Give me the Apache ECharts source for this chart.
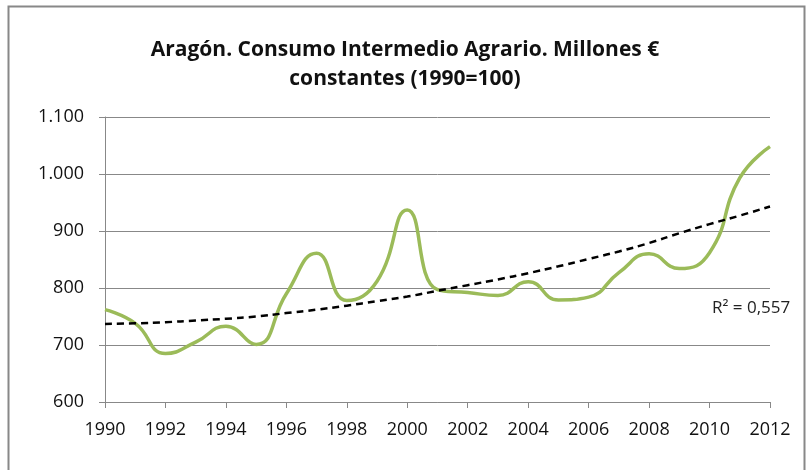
<!DOCTYPE html>
<html>
<head>
<meta charset="utf-8">
<script src="https://cdn.jsdelivr.net/npm/echarts@6/dist/echarts.min.js"></script>
<style>
html, body { margin: 0; padding: 0; background: #fff; }
#chart { width: 810px; height: 470px; }
</style>
</head>
<body>
<div id="chart"></div>
<script>
var years = [1990, 1991, 1992, 1993, 1994, 1995, 1996, 1997, 1998, 1999, 2000, 2001,
  2002, 2003, 2004, 2005, 2006, 2007, 2008, 2009, 2010, 2011, 2012]
var consumo = [762, 738, 685, 705, 733, 701, 790, 861, 778, 812, 937, 797,
  792, 787, 811, 779, 784, 827, 860, 834, 862, 993, 1048]
var tendencia = [737, 738, 740, 743, 746, 750, 756, 762, 769, 777, 785, 795,
  805, 815, 826, 838, 851, 864, 879, 896, 912, 927, 943]
var r2Label = 'R² = 0,557'

function pairs (vals) {
  return years.map(function (y, i) { return [y, vals[i]] })
}

var myChart = echarts.init(document.getElementById('chart'))
var font = '"Open Sans", "DejaVu Sans", sans-serif'

var option = {
  animation: false,
  title: {
    text: 'Aragón. Consumo Intermedio Agrario. Millones €\nconstantes (1990=100)',
    left: 'center',
    top: 31,
    textStyle: {
      fontFamily: font,
      fontSize: 21,
      fontWeight: 'bold',
      color: '#111',
      lineHeight: 29
    }
  },
  grid: { left: 105, right: 40, top: 117, bottom: 68 },
  xAxis: {
    type: 'value',
    min: 1990,
    max: 2012,
    interval: 2,
    axisLine: { lineStyle: { color: '#888', width: 1 } },
    axisTick: { show: true, length: 6, lineStyle: { color: '#888' } },
    splitLine: { show: false },
    axisLabel: {
      color: '#111',
      fontFamily: font,
      fontSize: 18,
      margin: 19,
      formatter: function (v) { return String(v) }
    }
  },
  yAxis: {
    type: 'value',
    min: 600,
    max: 1100,
    interval: 100,
    axisLine: { show: true, lineStyle: { color: '#888' } },
    axisTick: { show: true, length: 6, lineStyle: { color: '#888' } },
    splitLine: { lineStyle: { color: '#888', width: 1 } },
    axisLabel: {
      color: '#111',
      fontFamily: font,
      fontSize: 18,
      margin: 21,
      formatter: function (v) {
        return v >= 1000 ? Math.floor(v / 1000) + '.' + String(v % 1000).padStart(3, '0') : String(v)
      }
    }
  },
  series: [
    {
      type: 'line',
      data: pairs(consumo),
      smooth: 0.5,
      symbol: 'none',
      lineStyle: { color: '#9bbb59', width: 3.5 },
      z: 2
    },
    {
      type: 'line',
      data: pairs(tendencia),
      smooth: true,
      symbol: 'none',
      lineStyle: { color: '#000', width: 2.5, type: [7, 5] },
      z: 3
    }
  ],
  graphic: [
    {
      type: 'rect',
      shape: { x: 8.5, y: 6.5, width: 796, height: 470 },
      style: { fill: 'none', stroke: '#888', lineWidth: 2 },
      silent: true
    },
    {
      type: 'text',
      left: 712,
      top: 300,
      style: {
        text: r2Label,
        fontFamily: font,
        fontSize: 17,
        fill: '#222'
      }
    }
  ]
}

myChart.setOption(option)
</script>
</body>
</html>
